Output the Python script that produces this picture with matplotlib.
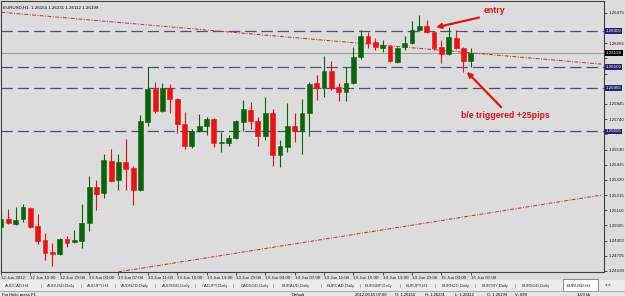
import matplotlib
matplotlib.use("Agg")
import matplotlib.pyplot as plt
from matplotlib.patches import Rectangle
from matplotlib.transforms import blended_transform_factory

# EURUSD H1, 12 Jun 15:00 .. 15 Jun 07:00
opens = [1.24994, 1.25050, 1.25015, 1.25050, 1.25126, 1.25001, 1.24904, 1.24821, 1.24807, 1.24911,
         1.24890, 1.24897, 1.25022, 1.25271, 1.25229, 1.25451, 1.25319, 1.25444, 1.25402, 1.25250,
         1.25721, 1.25949, 1.25797, 1.25956, 1.25880, 1.25707, 1.25555, 1.25658, 1.25693, 1.25741,
         1.25575, 1.25575, 1.25610, 1.25721, 1.25804, 1.25728, 1.25624, 1.25783, 1.25492, 1.25548,
         1.25693, 1.25658, 1.25783, 1.25991, 1.25956, 1.26074, 1.25963, 1.25928, 1.25991, 1.26170,
         1.26316, 1.26274, 1.26233, 1.26247, 1.26136, 1.26240, 1.26267, 1.26357, 1.26385, 1.26344,
         1.26240, 1.26191, 1.26302, 1.26233, 1.26143]
highs = [1.25091, 1.25119, 1.25133, 1.25153, 1.25133, 1.25084, 1.24953, 1.24884, 1.24918, 1.24932,
         1.24973, 1.25153, 1.25347, 1.25319, 1.25499, 1.25534, 1.25499, 1.25603, 1.25416, 1.25769,
         1.26101, 1.25998, 1.25991, 1.25984, 1.25887, 1.25790, 1.25672, 1.25776, 1.25755, 1.25748,
         1.25651, 1.25631, 1.25735, 1.25873, 1.25859, 1.25755, 1.25894, 1.25811, 1.25596, 1.25852,
         1.25783, 1.25880, 1.25998, 1.26046, 1.26177, 1.26143, 1.25991, 1.26101, 1.26240, 1.26357,
         1.26344, 1.26302, 1.26288, 1.26254, 1.26240, 1.26316, 1.26420, 1.26461, 1.26427, 1.26350,
         1.26288, 1.26378, 1.26357, 1.26240, 1.26233]
lows = [1.24918, 1.25015, 1.25010, 1.25029, 1.24987, 1.24877, 1.24766, 1.24724, 1.24800, 1.24856,
        1.24880, 1.24849, 1.24966, 1.25112, 1.25195, 1.25305, 1.25250, 1.25250, 1.25146, 1.25243,
        1.25693, 1.25783, 1.25790, 1.25783, 1.25645, 1.25534, 1.25541, 1.25651, 1.25631, 1.25548,
        1.25513, 1.25555, 1.25603, 1.25658, 1.25672, 1.25555, 1.25596, 1.25416, 1.25409, 1.25513,
        1.25582, 1.25499, 1.25624, 1.25873, 1.25894, 1.25942, 1.25866, 1.25866, 1.25984, 1.26157,
        1.26233, 1.26219, 1.26205, 1.26136, 1.26129, 1.26219, 1.26260, 1.26350, 1.26337, 1.26219,
        1.26129, 1.26184, 1.26226, 1.26067, 1.26101]
closes = [1.25050, 1.25022, 1.25043, 1.25133, 1.24994, 1.24897, 1.24814, 1.24807, 1.24911, 1.24884,
          1.24904, 1.25022, 1.25271, 1.25222, 1.25458, 1.25312, 1.25444, 1.25395, 1.25250, 1.25728,
          1.25949, 1.25797, 1.25956, 1.25880, 1.25707, 1.25555, 1.25658, 1.25693, 1.25741, 1.25575,
          1.25582, 1.25610, 1.25728, 1.25811, 1.25728, 1.25624, 1.25783, 1.25492, 1.25555, 1.25693,
          1.25658, 1.25783, 1.25984, 1.25956, 1.26074, 1.25956, 1.25928, 1.25991, 1.26170, 1.26316,
          1.26267, 1.26240, 1.26254, 1.26143, 1.26233, 1.26267, 1.26357, 1.26385, 1.26344, 1.26233,
          1.26191, 1.26309, 1.26233, 1.26143, 1.26199]

time_labels = ["12 Jun 2012", "12 Jun 19:00", "12 Jun 23:00", "13 Jun 03:00", "13 Jun 07:00",
               "13 Jun 11:00", "13 Jun 15:00", "13 Jun 19:00", "13 Jun 23:00", "14 Jun 03:00",
               "14 Jun 07:00", "14 Jun 11:00", "14 Jun 15:00", "14 Jun 19:00", "14 Jun 23:00",
               "15 Jun 03:00", "15 Jun 07:00"]
price_ticks = [1.24690, 1.24795, 1.24900, 1.25005, 1.25110, 1.25215, 1.25320, 1.25425, 1.25530,
               1.25635, 1.25740, 1.25845, 1.25950, 1.26055, 1.26160, 1.26265, 1.26370, 1.26475]
levels = [1.26350, 1.26100, 1.25955, 1.25655]
bid = 1.26199
header = "EURUSD,H1  1.26153 1.26231 1.26112 1.26199"
trend1 = ([0, 82], [1.26480, 1.26120])
trend2 = ([16, 82], [1.24683, 1.25216])

tabs = ["AUDCAD,H4", "AUDUSD,Daily", "AUDJPY,H4", "AUDNZD,Daily", "AUDSGD,Daily", "CADJPY,Daily",
        "CADSGD,Daily", "EURAUD,Daily", "EURCAD,Daily", "EURGBP,Daily", "EURJPY,H1", "EURNZD,Daily",
        "EURTRY,Daily", "EURSGD,Daily"]
tab_x = [5, 47, 87, 121, 162, 202, 241, 282, 327, 365, 406, 442, 482, 522]
sep_x = [41, 81, 115, 155, 195, 233, 273, 321, 360, 400, 435, 475, 515]
status = [("For Help, press F1", 2), ("Default", 292), ("2012.06.15 07:00", 355), ("O: 1.26153", 395),
          ("H: 1.26231", 425), ("L: 1.26112", 455), ("C: 1.26199", 487), ("V: 699", 515), ("12/0 kb", 577)]

W, H = 625, 296
BG = "#dcdcdc"
GREEN = "#0a640a"
RED = "#ee1111"
FONT = "Liberation Sans"


def fx(x):
    return x / W


def fy(y):
    return 1 - y / H


fig = plt.figure(figsize=(W / 100, H / 100), dpi=100, facecolor=BG)
ax = fig.add_axes([fx(1), fy(272), (604 - 1) / W, (272 - 1) / H], facecolor=BG)
ax.set_xlim(0, 82.15)
ax.set_ylim(1.24682, 1.26558)

# candles
for i in range(len(opens)):
    o, h, l, c = opens[i], highs[i], lows[i], closes[i]
    col = GREEN if c >= o else RED
    ax.vlines(i, l, h, color=col, lw=0.8, zorder=3)
    ax.bar(i, max(abs(c - o), 0.00003), bottom=min(o, c), width=0.66, color=col,
           edgecolor=col, linewidth=0.4, zorder=4)

# horizontal levels and bid line
for lv in levels:
    ax.axhline(lv, color="#50507a", lw=0.9, dashes=(9, 4), zorder=2)
ax.axhline(bid, color="#a0a0a0", lw=0.8, zorder=2)

# trend lines
ax.plot(trend1[0], trend1[1], color="#cc3030", lw=0.7, dashes=(4, 1.5, 1, 1.5), zorder=2)
ax.plot(trend2[0], trend2[1], color="#cc3030", lw=0.7, dashes=(4, 1.5, 1, 1.5), zorder=2)

# axes styling
for s in ax.spines.values():
    s.set_color("#404040")
    s.set_linewidth(0.8)
ax.yaxis.tick_right()
ax.set_yticks(price_ticks)
# labels hidden behind the level boxes are left out
shown = []
for p in price_ticks:
    if min(abs(p - lv) for lv in levels + [bid]) < 0.00045:
        shown.append("")
    else:
        shown.append("%.5f" % p)
ax.set_yticklabels(shown, fontsize=3.2, family=FONT)
ax.tick_params(axis="y", length=2, width=0.5, pad=1, colors="#202020")
ax.set_xticks(range(0, 65, 4))
ax.set_xticklabels(time_labels, fontsize=3.2, family=FONT)
for lab in ax.get_xticklabels():
    lab.set_ha("left")
ax.tick_params(axis="x", length=2, width=0.5, pad=1, colors="#202020")

# price boxes on the right scale
trans = blended_transform_factory(ax.transAxes, ax.transData)
for lv in levels:
    ax.text(1.003, lv, "%.5f" % lv, transform=trans, fontsize=3.2, family=FONT, color="white",
            va="center", ha="left", zorder=6,
            bbox=dict(boxstyle="square,pad=0.15", fc="#26266e", ec="none"), clip_on=False)
ax.text(1.003, bid, "%.5f" % bid, transform=trans, fontsize=3.2, family=FONT, color="white",
        va="center", ha="left", zorder=6,
        bbox=dict(boxstyle="square,pad=0.15", fc="black", ec="none"), clip_on=False)

# header
ax.text(0.004, 0.985, header, transform=ax.transAxes, fontsize=3.2, family=FONT,
        va="top", ha="left", color="black")

# annotations
ax.text(65.8, 1.26492, "entry", color=RED, fontsize=6.3, fontweight="bold", family=FONT,
        va="center", ha="left", zorder=7)
ax.annotate("", xy=(58.9, 1.26371), xytext=(65.5, 1.26448),
            arrowprops=dict(arrowstyle="-|>", color=RED, lw=1.6, mutation_scale=7), zorder=7)
ax.text(62.7, 1.25766, "b/e triggered +25pips", color=RED, fontsize=6.3, fontweight="bold",
        family=FONT, va="center", ha="left", zorder=7)
ax.annotate("", xy=(63.2, 1.26081), xytext=(68.4, 1.25810),
            arrowprops=dict(arrowstyle="-|>", color=RED, lw=1.6, mutation_scale=7), zorder=7)

# tab bar
fig.patches.append(Rectangle((0, fy(291)), 1, (291 - 280) / H, transform=fig.transFigure,
                             fc="#ececec", ec="none", zorder=0))
fig.patches.append(Rectangle((0, 0), 1, (296 - 291) / H, transform=fig.transFigure,
                             fc="#e4e4e4", ec="none", zorder=0))
fig.lines.append(plt.Line2D([0, 1], [fy(291), fy(291)], transform=fig.transFigure,
                            color="#a0a0a0", lw=0.6))
for name, x in zip(tabs, tab_x):
    fig.text(fx(x), fy(285.5), name, fontsize=3.0, family=FONT, va="center", ha="left", color="#303030")
for x in sep_x:
    fig.text(fx(x), fy(285.5), "|", fontsize=3.2, family=FONT, va="center", ha="center", color="#606060")
fig.patches.append(Rectangle((fx(563), fy(291)), (598 - 563) / W, (291 - 279) / H,
                             transform=fig.transFigure, fc="white", ec="#606060", lw=0.5, zorder=1))
fig.text(fx(567), fy(285.5), "EURUSD,H1", fontsize=3.0, family=FONT, va="center", ha="left",
         color="black", zorder=2)
fig.text(fx(605), fy(285.5), "\u25c2 \u25b8", fontsize=3.2, family="DejaVu Sans", va="center",
         ha="left", color="#505050")

# status bar (cut at the bottom edge)
for txt, x in status:
    fig.text(fx(x), fy(293), txt, fontsize=3.0, family=FONT, va="top", ha="left", color="black")

fig.savefig("out.png", dpi=100, facecolor=BG)
